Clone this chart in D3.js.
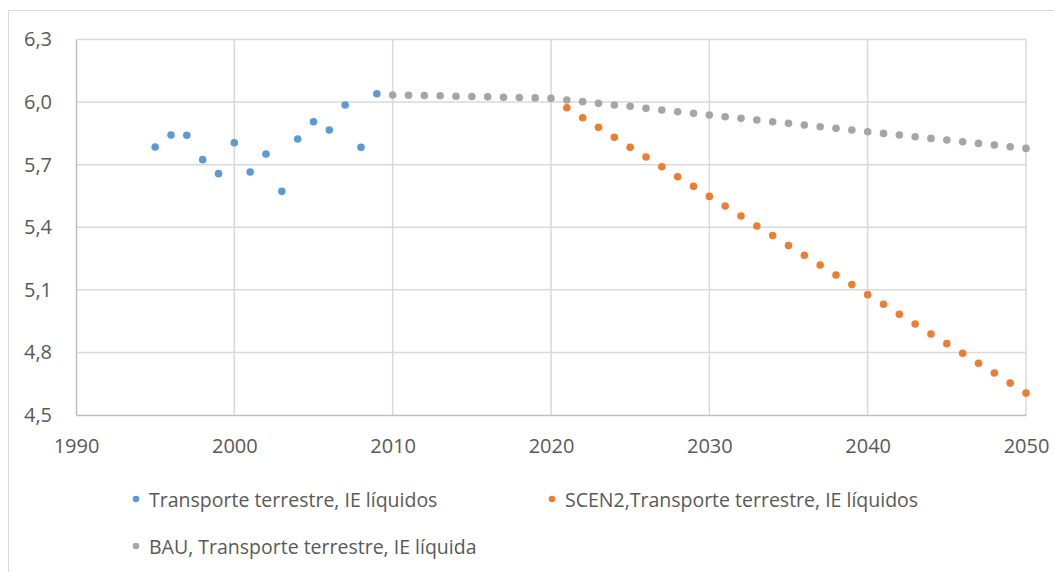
<!DOCTYPE html>
<html>
<head>
<meta charset="utf-8">
<script src="https://cdn.jsdelivr.net/npm/d3@7"></script>
<style>
  html, body { margin: 0; padding: 0; background: #ffffff; }
  svg { display: block; }
  text { font-family: "Open Sans", "Noto Sans", sans-serif; fill: #595959; }
</style>
</head>
<body>
<svg id="chart" width="1054" height="572"></svg>
<script>
// ---- data ----
const histYears = [1995,1996,1997,1998,1999,2000,2001,2002,2003,2004,2005,2006,2007,2008,2009];
const histValues = [5.785,5.842,5.841,5.724,5.657,5.805,5.665,5.751,5.572,5.823,5.906,5.866,5.986,5.783,6.040];

const bauYears = [2010,2011,2012,2013,2014,2015,2016,2017,2018,2019,2020,2021,2022,2023,2024,2025,2026,2027,2028,2029,2030,2031,2032,2033,2034,2035,2036,2037,2038,2039,2040,2041,2042,2043,2044,2045,2046,2047,2048,2049,2050];
const bauValues = [6.034,6.033,6.031,6.030,6.028,6.027,6.025,6.023,6.022,6.020,6.018,6.010,6.002,5.994,5.986,5.980,5.970,5.962,5.954,5.946,5.938,5.930,5.922,5.914,5.906,5.898,5.890,5.882,5.874,5.866,5.858,5.850,5.842,5.834,5.826,5.818,5.810,5.802,5.794,5.786,5.778];

const scenYears = [2021,2022,2023,2024,2025,2026,2027,2028,2029,2030,2031,2032,2033,2034,2035,2036,2037,2038,2039,2040,2041,2042,2043,2044,2045,2046,2047,2048,2049,2050];
const scenValues = [5.973,5.925,5.879,5.831,5.783,5.737,5.690,5.642,5.596,5.548,5.502,5.454,5.406,5.360,5.312,5.266,5.219,5.171,5.125,5.077,5.031,4.983,4.936,4.888,4.842,4.796,4.748,4.701,4.653,4.605];

const xTicks = [1990,2000,2010,2020,2030,2040,2050];
const yTicks = [4.5,4.8,5.1,5.4,5.7,6.0,6.3];

const seriesNames = ["Transporte terrestre, IE líquidos", "SCEN2,Transporte terrestre, IE líquidos", "BAU, Transporte terrestre, IE líquida"];
const seriesColors = ["#5B9BD5", "#ED7D31", "#A5A5A5"];

// ---- layout ----
const svg = d3.select("#chart");
const plot = { left: 76, right: 1026, top: 39.5, bottom: 415 };

const x = d3.scaleLinear().domain([1990, 2050]).range([plot.left, plot.right]);
const y = d3.scaleLinear().domain([4.5, 6.3]).range([plot.bottom, plot.top]);

// outer frame
svg.append("rect")
  .attr("x", 8.5).attr("y", 10.5)
  .attr("width", 1100).attr("height", 700)
  .attr("fill", "none").attr("stroke", "#D9D9D9").attr("stroke-width", 1);

// gridlines
const fmt = d3.format(".1f");
svg.append("g")
  .selectAll("line.h")
  .data(yTicks.filter(d => d !== 4.5))
  .join("line")
  .attr("x1", plot.left).attr("x2", plot.right)
  .attr("y1", d => y(d)).attr("y2", d => y(d))
  .attr("stroke", "#D9D9D9").attr("stroke-width", 1.5);

svg.append("g")
  .selectAll("line.v")
  .data(xTicks.filter(d => d !== 1990))
  .join("line")
  .attr("x1", d => x(d)).attr("x2", d => x(d))
  .attr("y1", plot.top).attr("y2", plot.bottom)
  .attr("stroke", "#D9D9D9").attr("stroke-width", 1.5);

// axes
const xAxis = svg.append("g")
  .attr("transform", `translate(0,${plot.bottom})`)
  .call(d3.axisBottom(x).tickValues(xTicks).tickFormat(d3.format("d")).tickSize(0).tickPadding(24));
xAxis.select(".domain").attr("stroke", "#BFBFBF").attr("stroke-width", 1.5);
xAxis.selectAll("text").style("font-size", "20px").style("font-family", "'Open Sans', sans-serif").attr("fill", "#595959");

const yAxis = svg.append("g")
  .attr("transform", `translate(${plot.left},0)`)
  .call(d3.axisLeft(y).tickValues(yTicks).tickFormat(d => fmt(d).replace(".", ",")).tickSize(0).tickPadding(24));
yAxis.select(".domain").attr("stroke", "#BFBFBF").attr("stroke-width", 1.5);
yAxis.selectAll("text").style("font-size", "20px").style("font-family", "'Open Sans', sans-serif").attr("fill", "#595959");

// points
const r = 3.8;
function drawSeries(years, values, color) {
  svg.append("g")
    .selectAll("circle")
    .data(years.map((yr, i) => [yr, values[i]]))
    .join("circle")
    .attr("cx", d => x(d[0]))
    .attr("cy", d => y(d[1]))
    .attr("r", r)
    .attr("fill", color);
}
drawSeries(bauYears, bauValues, seriesColors[2]);
drawSeries(histYears, histValues, seriesColors[0]);
drawSeries(scenYears, scenValues, seriesColors[1]);

// legend
const legendItems = [
  { name: seriesNames[0], color: seriesColors[0], mx: 136, ty: 499 },
  { name: seriesNames[1], color: seriesColors[1], mx: 552, ty: 499 },
  { name: seriesNames[2], color: seriesColors[2], mx: 136, ty: 546 }
];
const lg = svg.append("g");
legendItems.forEach(it => {
  lg.append("circle").attr("cx", it.mx).attr("cy", it.ty).attr("r", 3.3).attr("fill", it.color);
  lg.append("text")
    .attr("x", it.mx + 13).attr("y", it.ty)
    .attr("dominant-baseline", "central")
    .style("font-size", "19.5px")
    .text(it.name);
});
</script>
</body>
</html>
